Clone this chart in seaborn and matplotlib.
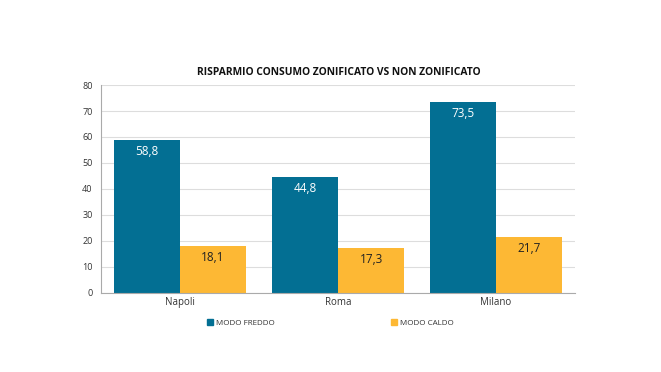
import matplotlib
matplotlib.use("Agg")
import matplotlib.pyplot as plt
import seaborn as sns
import pandas as pd
from matplotlib.patches import Patch

cities = ["Napoli", "Roma", "Milano"]
freddo = [58.8, 44.8, 73.5]
caldo = [18.1, 17.3, 21.7]
series_names = ["MODO FREDDO", "MODO CALDO"]
colors = ["#036f93", "#fdb834"]
yticks = [0, 10, 20, 30, 40, 50, 60, 70, 80]

df = pd.DataFrame({
    "city": cities * 2,
    "value": freddo + caldo,
    "series": [series_names[0]] * 3 + [series_names[1]] * 3,
})

sns.set_theme(style="white")
plt.rcParams['font.family'] = ['Open Sans', 'DejaVu Sans']

fig = plt.figure(figsize=(6.61, 3.72), dpi=100)
ax = fig.add_axes([0.1528, 0.2124, 0.7172, 0.5591])

sns.barplot(data=df, x="city", y="value", hue="series", palette=colors,
            width=0.835, saturation=1, ax=ax, legend=False, linewidth=0,
            edgecolor="none")

ax.set_ylim(0, 80)
ax.set_xlim(-0.5, 2.5)
ax.set_yticks(yticks)
ax.set_yticklabels([str(t) for t in yticks], fontsize=6.5, color="#333333")
ax.tick_params(axis="x", labelsize=7, colors="#333333", length=0, pad=3)
ax.tick_params(axis="y", length=0, pad=6)
ax.set_xlabel("")
ax.set_ylabel("")
ax.yaxis.grid(True, color="#dddddd", linewidth=0.8)
ax.set_axisbelow(True)
for s in ["top", "right"]:
    ax.spines[s].set_visible(False)
for s in ["left", "bottom"]:
    ax.spines[s].set_color("#aaaaaa")
    ax.spines[s].set_linewidth(0.8)

for i, cont in enumerate(ax.containers):
    lbl_color = "white" if i == 0 else "#222222"
    labels = [f"{v:.1f}".replace(".", ",") for v in cont.datavalues]
    ax.bar_label(cont, labels=labels, label_type="edge", padding=-13,
                 color=lbl_color, fontsize=8.5)

fig.text(0.512, 0.806, "RISPARMIO CONSUMO ZONIFICATO VS NON ZONIFICATO",
         ha="center", va="center", fontsize=7.4, fontweight="bold", color="#111111")

handles = [Patch(color=c, label=n) for c, n in zip(colors, series_names)]
fig.legend(handles=handles, loc="center", bbox_to_anchor=(0.5, 0.132), ncol=2,
           frameon=False, fontsize=5.8, handlelength=0.75, handleheight=0.75,
           columnspacing=14.4, handletextpad=0.4, labelcolor="#333333")

fig.savefig("out.png", dpi=100)
